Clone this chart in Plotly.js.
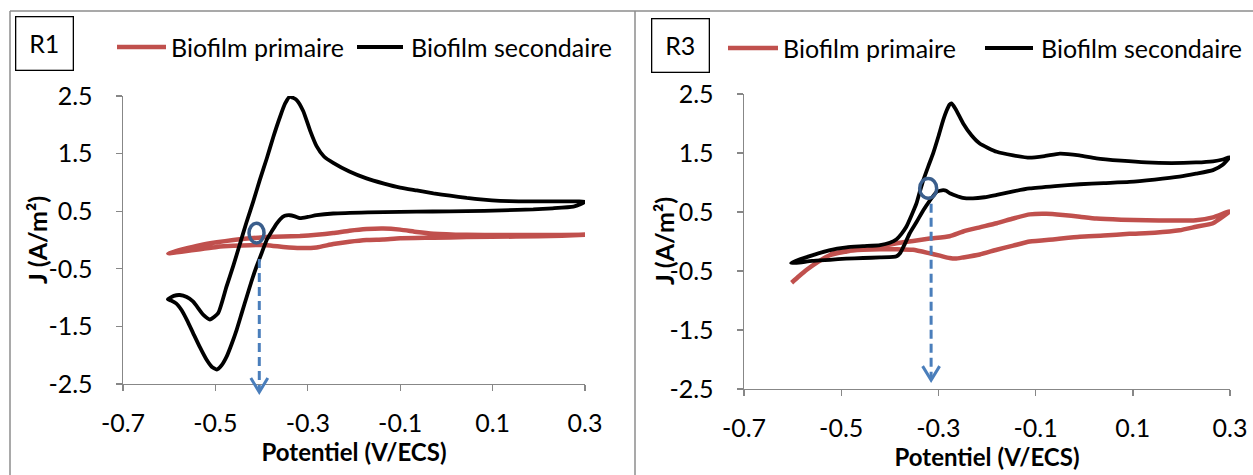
<!DOCTYPE html>
<html>
<head>
<meta charset="utf-8">
<script src="https://cdn.plot.ly/plotly-3.0.1.min.js"></script>
<style>html,body{margin:0;padding:0;background:#fff;}#chart{width:1253px;height:475px;}</style>
</head>
<body>
<div id="chart"></div>
<script>
// ---------- Data ----------
// R1 - Biofilm primaire (forward scan then reverse scan)
const V_R1_prim = [-0.602,-0.570,-0.533,-0.497,-0.461,-0.425,-0.389,-0.353,-0.317,-0.281,-0.245,-0.210,-0.173,-0.137,-0.100,-0.064,-0.028,0.044,0.120,0.200,0.300,
  0.250,0.150,0.044,-0.028,-0.100,-0.137,-0.173,-0.210,-0.245,-0.281,-0.317,-0.353,-0.389,-0.425,-0.461,-0.497,-0.533,-0.570,-0.602];
const J_R1_prim = [-0.23,-0.16,-0.09,-0.04,0.00,0.03,0.05,0.06,0.07,0.09,0.12,0.16,0.19,0.20,0.18,0.14,0.11,0.09,0.085,0.085,0.09,
  0.075,0.06,0.05,0.04,0.03,0.01,0.00,-0.03,-0.07,-0.13,-0.14,-0.12,-0.09,-0.09,-0.10,-0.12,-0.16,-0.20,-0.23];

// R1 - Biofilm secondaire
const V_R1_sec = [-0.603,-0.590,-0.577,-0.562,-0.548,-0.526,-0.512,-0.494,-0.476,-0.461,-0.447,-0.433,-0.418,-0.404,-0.389,-0.375,-0.360,-0.349,-0.339,-0.324,-0.310,-0.295,-0.281,-0.265,-0.245,-0.210,-0.173,-0.135,-0.100,-0.064,-0.028,0.008,0.044,0.080,0.116,0.156,0.200,0.250,0.285,0.300,
  0.290,0.275,0.230,0.188,0.120,0.044,-0.030,-0.100,-0.170,-0.245,-0.281,-0.300,-0.317,-0.328,-0.339,-0.350,-0.360,-0.367,-0.378,-0.389,-0.400,-0.411,-0.422,-0.432,-0.443,-0.454,-0.465,-0.476,-0.487,-0.497,-0.508,-0.519,-0.533,-0.548,-0.561,-0.573,-0.585,-0.596,-0.603];
const J_R1_sec = [-1.03,-0.97,-0.955,-0.99,-1.07,-1.30,-1.38,-1.27,-0.81,-0.44,-0.07,0.30,0.67,1.04,1.41,1.78,2.14,2.37,2.49,2.43,2.24,1.90,1.63,1.45,1.34,1.19,1.07,0.98,0.91,0.86,0.81,0.77,0.73,0.70,0.68,0.67,0.67,0.67,0.67,0.665,
  0.62,0.58,0.55,0.53,0.515,0.50,0.495,0.49,0.48,0.46,0.43,0.40,0.38,0.41,0.43,0.42,0.36,0.29,0.15,0.00,-0.23,-0.46,-0.72,-0.98,-1.27,-1.56,-1.81,-2.03,-2.18,-2.25,-2.20,-2.08,-1.87,-1.62,-1.40,-1.22,-1.10,-1.05,-1.03];

// R3 - Biofilm primaire
const V_R3_prim = [-0.602,-0.587,-0.571,-0.547,-0.523,-0.489,-0.455,-0.420,-0.386,-0.352,-0.318,-0.277,-0.249,-0.215,-0.180,-0.146,-0.112,-0.078,-0.044,-0.009,0.025,0.076,0.128,0.180,0.230,0.265,0.299,
  0.265,0.230,0.196,0.145,0.093,0.040,-0.009,-0.060,-0.112,-0.146,-0.180,-0.215,-0.249,-0.265,-0.277,-0.297,-0.318,-0.352,-0.386,-0.420,-0.455,-0.489,-0.523];
const J_R3_prim = [-0.70,-0.59,-0.48,-0.34,-0.23,-0.17,-0.12,-0.08,-0.03,0.01,0.05,0.09,0.17,0.24,0.31,0.39,0.46,0.47,0.45,0.42,0.39,0.37,0.36,0.355,0.36,0.41,0.51,
  0.31,0.25,0.19,0.15,0.13,0.10,0.08,0.04,0.00,-0.07,-0.14,-0.22,-0.27,-0.29,-0.28,-0.24,-0.20,-0.14,-0.13,-0.13,-0.14,-0.16,-0.21];

// R3 - Biofilm secondaire
const V_R3_sec = [-0.603,-0.585,-0.558,-0.525,-0.489,-0.455,-0.420,-0.400,-0.386,-0.376,-0.366,-0.355,-0.345,-0.338,-0.331,-0.321,-0.311,-0.300,-0.290,-0.283,-0.277,-0.273,-0.265,-0.249,-0.232,-0.215,-0.180,-0.146,-0.112,-0.080,-0.050,-0.010,0.025,0.076,0.128,0.180,0.230,0.265,0.285,0.299,
  0.285,0.265,0.230,0.196,0.145,0.093,0.040,-0.009,-0.060,-0.112,-0.146,-0.180,-0.205,-0.229,-0.250,-0.265,-0.277,-0.284,-0.290,-0.297,-0.304,-0.318,-0.331,-0.345,-0.359,-0.369,-0.379,-0.386,-0.393,-0.420,-0.455,-0.490,-0.523,-0.560,-0.592,-0.603];
const J_R3_sec = [-0.36,-0.30,-0.23,-0.15,-0.10,-0.08,-0.06,-0.02,0.04,0.13,0.25,0.45,0.65,0.85,1.04,1.27,1.49,1.78,2.06,2.22,2.32,2.34,2.25,2.00,1.80,1.66,1.52,1.46,1.42,1.45,1.49,1.46,1.41,1.37,1.34,1.33,1.34,1.36,1.39,1.43,
  1.30,1.21,1.15,1.10,1.05,1.01,0.99,0.97,0.94,0.90,0.85,0.79,0.75,0.73,0.74,0.78,0.82,0.86,0.87,0.86,0.84,0.69,0.53,0.33,0.14,-0.04,-0.20,-0.25,-0.26,-0.27,-0.28,-0.29,-0.31,-0.33,-0.36,-0.36];

// Onset potential markers (V, J) for R1 and R3
const onsetCircleV = [-0.411, -0.321];
const onsetCircleJ = [0.12, 0.90];
const onsetArrowV = [-0.405, -0.315];
const onsetArrowStartJ = [-0.33, 0.64];
const onsetArrowTipJ = [-2.64, -2.35];

// Tick labels
const xTickVals = [-0.7, -0.5, -0.3, -0.1, 0.1, 0.3];
const xTickText = ['-0.7', '-0.5', '-0.3', '-0.1', '0.1', '0.3'];
const yTickVals = [2.5, 1.5, 0.5, -0.5, -1.5, -2.5];
const yTickText = ['2.5', '1.5', '0.5', '-0.5', '-1.5', '-2.5'];

const panelLabels = ['R1', 'R3'];
const seriesNames = ['Biofilm primaire', 'Biofilm secondaire'];
const xTitle = 'Potentiel (V/ECS)';
const yTitle = 'J (A/m²)';

// ---------- Layout helpers ----------
const W = 1253, H = 475;
const px = x => x / W;            // pixel -> paper x
const py = y => (H - y) / H;      // pixel -> paper y
const FONT = 'Lato, "Open Sans", sans-serif';
const RED = '#C0504D', BLACK = '#000000', BLUE = '#4A7EBB', DBLUE = '#3A5E8C', AXC = '#878787';

const xRange = [-0.7, 0.3], yRange = [-2.5, 2.5];
const xDom = [[px(123), px(585)], [px(744), px(1230)]];
const yDom = [[py(384), py(96)], [py(389), py(94)]];
const jToPaper = (j, k) => yDom[k][0] + (j - yRange[0]) / (yRange[1] - yRange[0]) * (yDom[k][1] - yDom[k][0]);

function xAxis(k) {
  return {
    domain: xDom[k], anchor: k ? 'y2' : 'y', range: xRange, fixedrange: true,
    tickmode: 'array', tickvals: xTickVals, ticktext: xTickText,
    showline: true, linecolor: AXC, linewidth: 1.4, ticks: 'outside', ticklen: 6, tickwidth: 1.4, tickcolor: AXC,
    showgrid: false, zeroline: false, ticklabelstandoff: 11,
    tickfont: {family: FONT, size: 25, color: '#000'},
    title: {text: xTitle, standoff: 5, font: {family: FONT, size: 24, color: '#000', weight: 700}}
  };
}
function yAxis(k) {
  return {
    domain: yDom[k], anchor: k ? 'x2' : 'x', range: yRange, fixedrange: true,
    tickmode: 'array', tickvals: yTickVals, ticktext: yTickText,
    showline: true, linecolor: AXC, linewidth: 1.4, ticks: 'outside', ticklen: 6, tickwidth: 1.4, tickcolor: AXC,
    showgrid: false, zeroline: false, ticklabelstandoff: 18,
    tickfont: {family: FONT, size: 25, color: '#000'}
  };
}

// ---------- Traces ----------
const lineOpts = (color, w) => ({color: color, width: w, shape: 'spline', smoothing: 0.5});
const data = [
  {x: V_R1_prim, y: J_R1_prim, xaxis: 'x', yaxis: 'y', mode: 'lines', name: seriesNames[0], line: lineOpts(RED, 4.5)},
  {x: V_R1_sec, y: J_R1_sec, xaxis: 'x', yaxis: 'y', mode: 'lines', name: seriesNames[1], line: lineOpts(BLACK, 3.8)},
  {x: V_R3_prim, y: J_R3_prim, xaxis: 'x2', yaxis: 'y2', mode: 'lines', name: seriesNames[0], line: lineOpts(RED, 4.5)},
  {x: V_R3_sec, y: J_R3_sec, xaxis: 'x2', yaxis: 'y2', mode: 'lines', name: seriesNames[1], line: lineOpts(BLACK, 3.8)}
];

// ---------- Shapes & annotations ----------
const shapes = [
  // panel frames
  {type: 'line', xref: 'paper', yref: 'paper', x0: px(10), x1: 1, y0: py(11), y1: py(11), line: {color: '#8C8C8C', width: 1.5}},
  {type: 'line', xref: 'paper', yref: 'paper', x0: px(10), x1: px(10), y0: py(11), y1: 0, line: {color: '#8C8C8C', width: 1.5}},
  {type: 'line', xref: 'paper', yref: 'paper', x0: px(635), x1: px(635), y0: py(11), y1: 0, line: {color: '#8C8C8C', width: 1.5}},
  // manual legends
  {type: 'line', xref: 'paper', yref: 'paper', x0: px(117), x1: px(166), y0: py(47), y1: py(47), line: {color: RED, width: 4.5}},
  {type: 'line', xref: 'paper', yref: 'paper', x0: px(357), x1: px(403), y0: py(47), y1: py(47), line: {color: BLACK, width: 4}},
  {type: 'line', xref: 'paper', yref: 'paper', x0: px(728), x1: px(778), y0: py(48), y1: py(48), line: {color: RED, width: 4.5}},
  {type: 'line', xref: 'paper', yref: 'paper', x0: px(985), x1: px(1033), y0: py(48), y1: py(48), line: {color: BLACK, width: 4}}
];
const annotations = [];
const boxCenters = [[44.5, 43.5], [680.5, 46]];
const legendTextX = [[169, 409], [781, 1039]];
const legendY = [47, 48];
const yTitlePos = [[37, 240], [664, 241]];
for (let k = 0; k < 2; k++) {
  const xr = k ? 'x2' : 'x', yr = k ? 'y2' : 'y';
  // onset circle
  shapes.push({type: 'circle', xref: xr, yref: yr, xsizemode: 'pixel', ysizemode: 'pixel',
    xanchor: onsetCircleV[k], yanchor: onsetCircleJ[k], x0: -7.5 - k, x1: 7.5 + k, y0: -9.8, y1: 9.8,
    line: {color: DBLUE, width: 3.5}});
  // dashed arrow shaft
  shapes.push({type: 'line', xref: xr, yref: 'paper', x0: onsetArrowV[k], x1: onsetArrowV[k],
    y0: jToPaper(onsetArrowStartJ[k], k), y1: jToPaper(onsetArrowTipJ[k], k) + 2 / H,
    line: {color: BLUE, width: 3, dash: '9px,5px'}});
  // arrow head (open V)
  shapes.push({type: 'path', xref: xr, yref: 'paper', xsizemode: 'pixel', ysizemode: 'pixel',
    xanchor: onsetArrowV[k], yanchor: jToPaper(onsetArrowTipJ[k], k), path: 'M-8.5,14L0,0L8.5,14',
    line: {color: BLUE, width: 3}});
  // panel label box
  annotations.push({xref: 'paper', yref: 'paper', x: px(boxCenters[k][0]), y: py(boxCenters[k][1]),
    xanchor: 'center', yanchor: 'middle', text: panelLabels[k], showarrow: false,
    font: {family: FONT, size: 25, color: '#000'}, bordercolor: '#000', borderwidth: 1.3,
    width: 56, height: 52, borderpad: 0, bgcolor: '#fff'});
  // y-axis title (rotated)
  annotations.push({xref: 'paper', yref: 'paper', x: px(yTitlePos[k][0]), y: py(yTitlePos[k][1]),
    xanchor: 'center', yanchor: 'middle', text: yTitle, textangle: -90, showarrow: false,
    font: {family: FONT, size: 25, color: '#000', weight: 700}});
  // legend texts
  for (let s = 0; s < 2; s++) {
    annotations.push({xref: 'paper', yref: 'paper', x: px(legendTextX[k][s]), y: py(legendY[k]),
      xanchor: 'left', yanchor: 'middle', text: seriesNames[s], showarrow: false,
      font: {family: FONT, size: 25, color: '#000'}});
  }
}

const layout = {
  width: W, height: H, margin: {l: 0, r: 0, t: 0, b: 0},
  paper_bgcolor: '#fff', plot_bgcolor: 'rgba(0,0,0,0)', showlegend: false,
  xaxis: xAxis(0), yaxis: yAxis(0), xaxis2: xAxis(1), yaxis2: yAxis(1),
  shapes: shapes, annotations: annotations
};

Plotly.newPlot('chart', data, layout, {staticPlot: true, displayModeBar: false});
</script>
</body>
</html>
